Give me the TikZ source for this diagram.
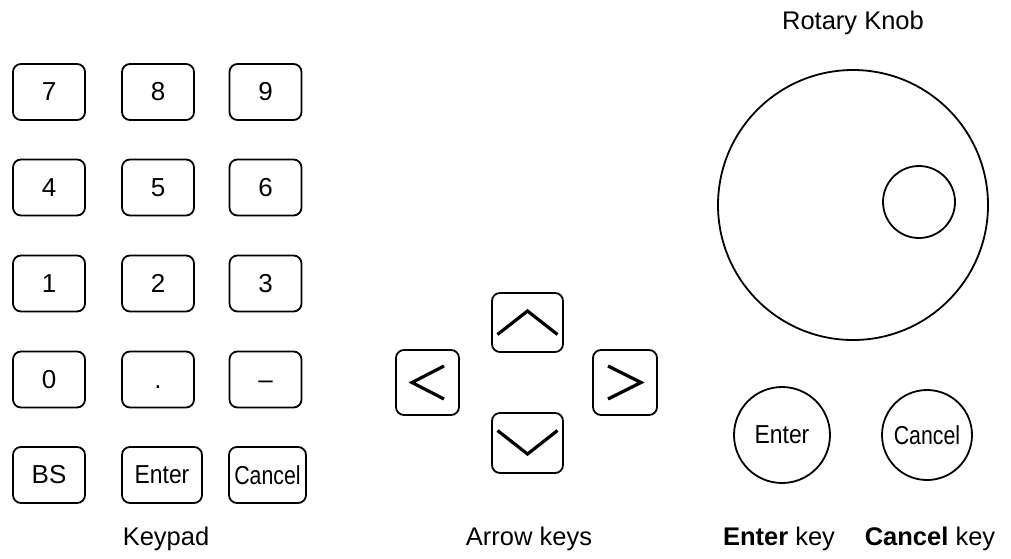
\documentclass[tikz,border=0pt]{standalone}
\usepackage{fontspec}
\setmainfont{Liberation Sans}
\usepackage{graphicx}
\newcommand{\narrowtxt}[2]{\scalebox{#1}[1]{#2}}
\begin{document}
\begin{tikzpicture}[x=1pt,y=-1pt,
  keybox/.style={draw, line width=1.8pt, rounded corners=8pt, minimum width=72pt, minimum height=56pt, inner sep=0pt, font=\fontsize{26}{30}\selectfont},
  roundkey/.style={draw, circle, line width=1.8pt, inner sep=0pt, font=\fontsize{26}{30}\selectfont},
  chev/.style={line width=3.2pt, line cap=butt, line join=miter},
  lbl/.style={anchor=base, inner sep=0pt, font=\fontsize{25.5}{30}\selectfont}]
\useasboundingbox (0,0) rectangle (1011,558);
% keypad
\node[keybox] (k7) at (49,92) {7};
\node[keybox] (k8) at (158,92) {8};
\node[keybox] (k9) at (265.5,92) {9};
\node[keybox] (k4) at (49,187.5) {4};
\node[keybox] (k5) at (158,187.5) {5};
\node[keybox] (k6) at (265.5,187.5) {6};
\node[keybox] (k1) at (49,283.5) {1};
\node[keybox] (k2) at (158,283.5) {2};
\node[keybox] (k3) at (265.5,283.5) {3};
\node[keybox] (k0) at (49,379.5) {0};
\node[keybox] (kdot) at (158,379.5) {\vphantom{0}.};
\node[keybox] (kminus) at (265.5,379.5) {\vphantom{0}--};
\node[keybox] (kbs) at (49,475) {BS};
\node[keybox, minimum width=80pt] (kenter) at (162,475) {\narrowtxt{0.88}{Enter}};
\node[keybox, minimum width=77pt] (kcancel) at (267.5,475) {\narrowtxt{0.82}{Cancel}};
\node[lbl] (keypadlbl) at (166,545) {Keypad};
% arrow keys
\node[keybox, minimum width=71pt, minimum height=59pt] (up) at (527.5,322.5) {};
\node[keybox, minimum width=71pt, minimum height=60pt] (down) at (527.5,443) {};
\node[keybox, minimum width=63pt, minimum height=65pt] (left) at (427.5,382.5) {};
\node[keybox, minimum width=64pt, minimum height=65pt] (right) at (625,382.5) {};
\draw[chev] ([shift={(-30,12)}]up.center) -- ([shift={(0,-11.5)}]up.center) -- ([shift={(30,12)}]up.center);
\draw[chev] ([shift={(-30,-12.5)}]down.center) -- ([shift={(0,11)}]down.center) -- ([shift={(30,-12.5)}]down.center);
\draw[chev] ([shift={(16.5,-16.5)}]left.center) -- ([shift={(-15.5,0)}]left.center) -- ([shift={(16.5,16.5)}]left.center);
\draw[chev] ([shift={(-17,-16.5)}]right.center) -- ([shift={(16,0)}]right.center) -- ([shift={(-17,16.5)}]right.center);
\node[lbl] (arrowlbl) at (529,545) {Arrow keys};
% rotary knob
\node[lbl] (knoblbl) at (853,29) {Rotary Knob};
\node[draw, circle, line width=1.8pt, minimum size=270pt, inner sep=0pt] (knob) at (853,205) {};
\node[draw, circle, line width=1.8pt, minimum size=72pt, inner sep=0pt] (grip) at (919,202) {};
% enter / cancel
\node[roundkey, minimum size=96pt] (center) at (782,435) {\narrowtxt{0.88}{Enter}};
\node[roundkey, minimum size=90pt] (ccancel) at (927,435) {\narrowtxt{0.82}{Cancel}};
\node[lbl] (enterlbl) at (779,545) {\textbf{Enter} key};
\node[lbl] (cancellbl) at (930,545) {\textbf{Cancel} key};
\end{tikzpicture}
\end{document}
